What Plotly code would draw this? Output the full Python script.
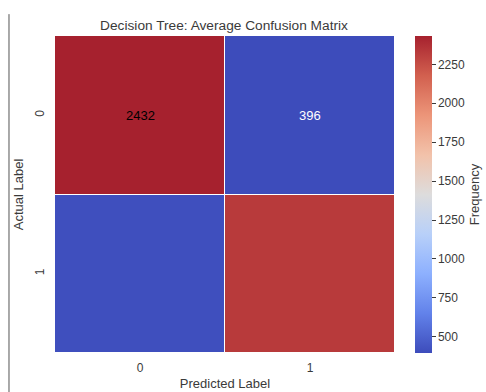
import plotly.graph_objects as go

# Class labels and averaged confusion-matrix counts
actual_labels = ["0", "1"]
predicted_labels = ["0", "1"]
row_actual_0 = [2432, 396]
row_actual_1 = [410, 2330]
colorbar_ticks = [500, 750, 1000, 1250, 1500, 1750, 2000, 2250]

# Only the first row carries value labels
annotated_rows = {0}

coolwarm = [
    [0.0, "#3d4cbb"], [0.125, "#6282ea"], [0.25, "#8db0fe"], [0.375, "#b8d0f9"],
    [0.5, "#dddcdc"], [0.625, "#f2c2aa"], [0.75, "#ec9579"], [0.875, "#d2604f"],
    [1.0, "#a6212e"],
]

z = [row_actual_0, row_actual_1]
zmin = min(min(r) for r in z)
zmax = max(max(r) for r in z)

fig = go.Figure(
    go.Heatmap(
        z=z,
        x=predicted_labels,
        y=actual_labels,
        colorscale=coolwarm,
        zmin=zmin,
        zmax=zmax,
        xgap=1,
        ygap=1,
        colorbar=dict(
            title=dict(text="Frequency", side="right", font=dict(size=13, color="#3a3a3a")),
            x=1.059,
            xanchor="left",
            y=0.5,
            yanchor="middle",
            len=1.0,
            lenmode="fraction",
            thickness=17,
            outlinewidth=0,
            xpad=0,
            ypad=0,
            tickvals=colorbar_ticks,
            ticks="outside",
            ticklen=4,
            tickcolor="#3a3a3a",
            tickfont=dict(size=12, color="#3a3a3a"),
        ),
        hoverinfo="skip",
    )
)

mid = (zmin + zmax) / 2
for i, row in enumerate(z):
    if i not in annotated_rows:
        continue
    for j, v in enumerate(row):
        fig.add_annotation(
            x=predicted_labels[j], y=actual_labels[i], text=str(v),
            showarrow=False,
            font=dict(size=13, color="black" if v > mid else "white"),
        )

# Thin vertical rule at the left edge of the canvas
fig.add_shape(
    type="line", xref="paper", yref="paper",
    x0=-0.1353, x1=-0.1353, y0=1.069, y1=-0.13,
    line=dict(color="#555555", width=1),
)

fig.update_layout(
    width=486,
    height=392,
    margin=dict(l=55, r=91, t=36, b=39, autoexpand=False),
    paper_bgcolor="white",
    plot_bgcolor="white",
    font=dict(family="Liberation Sans, Arial, sans-serif", color="#3a3a3a"),
    title=dict(
        text="Decision Tree: Average Confusion Matrix",
        x=224 / 486, xanchor="center",
        y=1 - 25 / 392, yanchor="middle",
        font=dict(size=13.7, color="#3a3a3a"),
    ),
    xaxis=dict(
        title=dict(text="Predicted Label", font=dict(size=13), standoff=4),
        showgrid=False, zeroline=False, ticks="", tickfont=dict(size=12),
        ticklabelstandoff=6,
    ),
    yaxis=dict(
        title=dict(text="Actual Label", font=dict(size=13), standoff=6),
        autorange="reversed",
        showgrid=False, zeroline=False, ticks="", tickangle=-90,
        tickfont=dict(size=12),
        ticklabelstandoff=8,
    ),
)

fig.write_html("out.html")
